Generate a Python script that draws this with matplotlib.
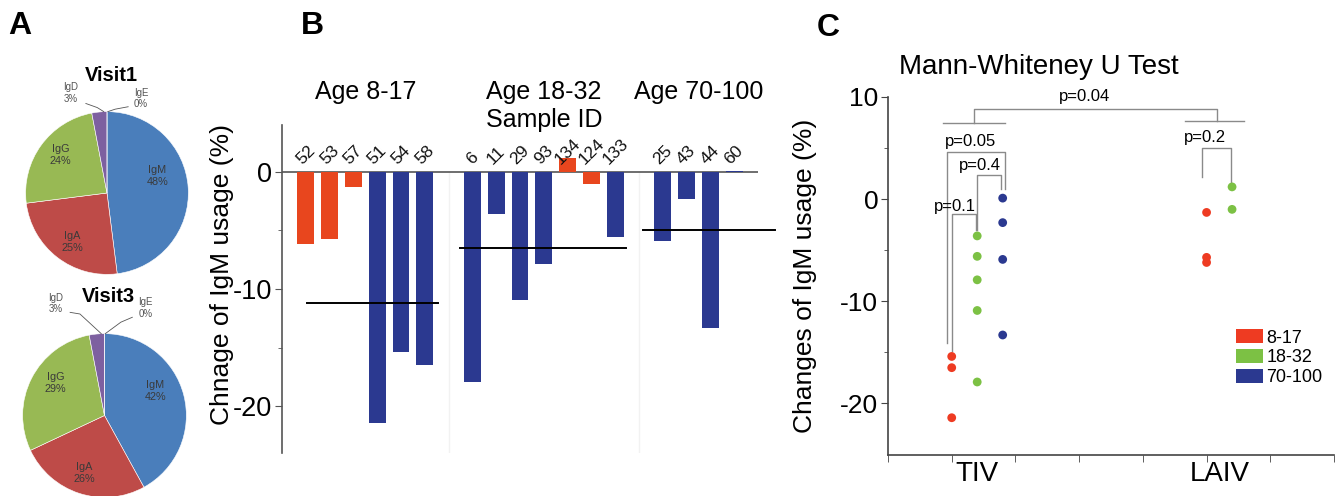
import matplotlib
matplotlib.use('Agg')
import matplotlib.pyplot as plt
from matplotlib.patches import Patch
import numpy as np

plt.rcParams['font.family'] = ['Liberation Sans', 'DejaVu Sans']
plt.rcParams['axes.unicode_minus'] = False

# ---------------- data ----------------
# Panel A
isotypes = ['IgM', 'IgA', 'IgG', 'IgD', 'IgE']
visit1_pct = [48, 25, 24, 3, 0]
visit3_pct = [42, 26, 29, 3, 0]
pie_colors = ['#4a7ebb', '#be4b48', '#98b954', '#7d60a0', '#4bacc6']

# Panel B
age_groups = ['Age 8-17', 'Age 18-32', 'Age 70-100']
age_short = ['8-17', '18-32', '70-100']
sample_ids = [['52', '53', '57', '51', '54', '58'],
              ['6', '11', '29', '93', '134', '124', '133'],
              ['25', '43', '44', '60']]
igm_change = [[-6.2, -5.7, -1.3, -21.4, -15.4, -16.5],
              [-17.9, -3.6, -10.9, -7.9, 1.2, -1.0, -5.6],
              [-5.9, -2.3, -13.3, 0.1]]
vaccine = [['LAIV', 'LAIV', 'LAIV', 'TIV', 'TIV', 'TIV'],
           ['TIV', 'TIV', 'TIV', 'TIV', 'LAIV', 'LAIV', 'TIV'],
           ['TIV', 'TIV', 'TIV', 'TIV']]
group_mean = [-11.2, -6.5, -5.0]

# Panel C
vaccine_types = ['TIV', 'LAIV']
p_values = ['p=0.04', 'p=0.05', 'p=0.4', 'p=0.1', 'p=0.2']

# ---------------- styles ----------------
bar_color = {'LAIV': '#e8461e', 'TIV': '#2b3990'}
age_colors = ['#ee3b22', '#7cc144', '#2b3990']
axis_col = '#555555'

fig = plt.figure(figsize=(13.42, 4.96), dpi=100)
W, H = 1342, 496


def px_axes(x0, y0, x1, y1):
    return fig.add_axes([x0 / W, 1 - y1 / H, (x1 - x0) / W, (y1 - y0) / H])


# ---------------- Panel A: pies ----------------
def draw_pie(ax, vals, title, in_pos, out_pos, lead, title_y):
    wedges, _ = ax.pie(vals, colors=pie_colors, startangle=90, counterclock=False,
                       radius=1, wedgeprops=dict(linewidth=0.4, edgecolor='white'))
    ax.set_xlim(-1.02, 1.02)
    ax.set_ylim(-1.02, 1.02)
    for i in range(3):
        tx, ty = in_pos[i]
        ax.text(tx, ty, f'{isotypes[i]}\n{vals[i]}%',
                ha='center', va='center', fontsize=7.8, color='#3a3a3a', linespacing=1.2)
    for j, i in enumerate([3, 4]):
        (tx, ty) = out_pos[j]
        ax.text(tx, ty, f'{isotypes[i]}\n{vals[i]}%', ha='center', va='center',
                fontsize=7, color='#555555', clip_on=False, linespacing=1.2)
        xs, ys = zip(*lead[j])
        ax.plot(xs, ys, color='#555555', lw=0.6, clip_on=False)
    ax.text(0.05, title_y, title, ha='center', va='center', fontsize=14.5,
            fontweight='bold', clip_on=False)


ax_p1 = px_axes(24, 110, 190, 276)
draw_pie(ax_p1, visit1_pct, 'Visit1',
         [(0.62, 0.21), (-0.43, -0.6), (-0.57, 0.47)],
         [(-0.45, 1.23), (0.42, 1.16)],
         [[(-0.26, 1.1), (-0.12, 1.05), (-0.04, 1.0)], [(0.26, 1.06), (0.1, 1.03), (0.01, 1.0)]],
         1.45)
ax_p2 = px_axes(21, 332, 188, 499)
draw_pie(ax_p2, visit3_pct, 'Visit3',
         [(0.62, 0.3), (-0.25, -0.7), (-0.6, 0.4)],
         [(-0.6, 1.37), (0.5, 1.31)],
         [[(-0.42, 1.26), (-0.3, 1.24), (-0.04, 1.0)], [(0.34, 1.2), (0.2, 1.14), (0.01, 1.0)]],
         1.45)

# ---------------- Panel B: bars ----------------
ax_b = px_axes(282, 125, 758, 453)
start = 1
positions = []
for g in range(len(sample_ids)):
    n = len(sample_ids[g])
    positions.append(np.arange(start, start + n))
    start += n + 1

mean_span = [(0.05, 0.57), (-0.53, 0.47), (-0.83, 1.73)]
for g in range(len(sample_ids)):
    cols = [bar_color[v] for v in vaccine[g]]
    ax_b.bar(positions[g], igm_change[g], width=0.7, color=cols, edgecolor='none', zorder=2)
    for xi, sid in zip(positions[g], sample_ids[g]):
        ax_b.text(xi, 0.4, sid, rotation=45, ha='center', va='bottom', fontsize=12.5,
                  color='#111111', clip_on=False)
    ax_b.plot([positions[g][0] + mean_span[g][0], positions[g][-1] + mean_span[g][1]],
              [group_mean[g], group_mean[g]], color='black', lw=1.4, zorder=3, clip_on=False)
    cx = (positions[g][0] + positions[g][-1]) / 2
    ax_b.text(cx, 6.8, age_groups[g], ha='center', va='center', fontsize=18, clip_on=False)
    if g < len(sample_ids) - 1:
        sep = positions[g][-1] + 1
        ax_b.plot([sep, sep], [0, -24], color='#f2f2f2', lw=1, zorder=0)
ax_b.text((positions[1][0] + positions[1][-1]) / 2, 4.4, 'Sample ID', ha='center',
          va='center', fontsize=18, clip_on=False)

ax_b.axhline(0, color=axis_col, lw=1.2, zorder=1)
ax_b.set_xlim(0, 20)
ax_b.set_ylim(-24, 4)
for s in ['top', 'right', 'bottom']:
    ax_b.spines[s].set_visible(False)
ax_b.spines['left'].set_color(axis_col)
ax_b.spines['left'].set_linewidth(1.2)
ax_b.set_xticks([])
ax_b.set_yticks([-20, -10, 0])
ax_b.set_yticks([-15, -5], minor=True)
ax_b.tick_params(axis='y', which='major', labelsize=19.5, length=5, color=axis_col,
                 direction='out', pad=2)
ax_b.tick_params(axis='y', which='minor', length=3, color=axis_col, direction='out')
ax_b.set_ylabel('Chnage of IgM usage (%)', fontsize=19)
ax_b.yaxis.set_label_coords(-0.1, 0.543)

# ---------------- Panel C: scatter ----------------
ax_c = px_axes(888, 97, 1334, 454.5)
base_x = {'TIV': 1.0, 'LAIV': 5.0}
for g in range(len(sample_ids)):
    for vt in vaccine_types:
        vals = [v for v, vv in zip(igm_change[g], vaccine[g]) if vv == vt]
        if vals:
            ax_c.scatter([base_x[vt] + 0.4 * g] * len(vals), vals, s=40,
                         color=age_colors[g], edgecolor='none', zorder=3)

bk = dict(color='#8a8a8a', lw=1.0, clip_on=False)
# p=0.04
ax_c.plot([1.35, 1.35, 5.17, 5.17], [7.47, 8.83, 8.83, 7.63], **bk)
ax_c.plot([0.86, 1.84], [7.47, 7.47], **bk)
ax_c.plot([4.66, 5.59], [7.63, 7.63], **bk)
ax_c.text(3.09, 10.0, p_values[0], ha='center', va='center', fontsize=12, clip_on=False)
# p=0.05
ax_c.plot([0.92, 0.92, 1.83, 1.83], [-14.1, 4.6, 4.6, 1.0], **bk)
ax_c.text(1.3, 5.6, p_values[1], ha='center', va='center', fontsize=12)
# p=0.4
ax_c.plot([1.40, 1.40, 1.77, 1.77], [-3.0, 2.34, 2.34, 1.0], **bk)
ax_c.text(1.45, 3.3, p_values[2], ha='center', va='center', fontsize=12)
# p=0.1
ax_c.plot([1.01, 1.01, 1.38, 1.38], [-14.9, -1.49, -1.49, -3.0], **bk)
ax_c.text(1.05, -0.7, p_values[3], ha='center', va='center', fontsize=12)
# p=0.2
ax_c.plot([4.93, 4.93, 5.38, 5.38], [2.17, 5.0, 5.0, 1.5], **bk)
ax_c.text(4.98, 6.0, p_values[4], ha='center', va='center', fontsize=12)

ax_c.set_xlim(0, 7)
ax_c.set_ylim(-25, 10)
for s in ['top', 'right']:
    ax_c.spines[s].set_visible(False)
for s in ['left', 'bottom']:
    ax_c.spines[s].set_color('#444444')
    ax_c.spines[s].set_linewidth(1.2)
ax_c.set_xticks([1.4, 5.2])
ax_c.set_xticklabels(vaccine_types)
ax_c.set_xticks(np.arange(0, 8), minor=True)
ax_c.tick_params(axis='x', which='major', length=0, labelsize=20, pad=5)
ax_c.tick_params(axis='x', which='minor', length=5, color='#444444')
ax_c.set_yticks([-20, -10, 0, 10])
ax_c.set_yticks([-15, -5, 5], minor=True)
ax_c.tick_params(axis='y', which='major', labelsize=19, length=5, color='#444444', pad=2)
ax_c.tick_params(axis='y', which='minor', length=3, color='#444444')
ax_c.set_ylabel('Changes of IgM usage (%)', fontsize=19)
ax_c.yaxis.set_label_coords(-0.16, 0.5)
ax_c.text(2.37, 12.9, 'Mann-Whiteney U Test', ha='center', va='center', fontsize=20,
          clip_on=False)

handles = [Patch(facecolor=c, edgecolor='none') for c in age_colors]
ax_c.legend(handles, age_short, loc='upper left', bbox_to_anchor=(0.78, 0.35),
            frameon=False, fontsize=13, handlelength=1.5, handleheight=0.8,
            handletextpad=0.2, labelspacing=0.15, borderaxespad=0, borderpad=0)

# panel letters
fig.text(20 / W, 1 - 26 / H, 'A', fontsize=23, fontweight='bold', ha='center', va='center')
fig.text(312 / W, 1 - 26 / H, 'B', fontsize=23, fontweight='bold', ha='center', va='center')
fig.text(828 / W, 1 - 28 / H, 'C', fontsize=23, fontweight='bold', ha='center', va='center')

fig.savefig('out.png', dpi=100, facecolor='white')
